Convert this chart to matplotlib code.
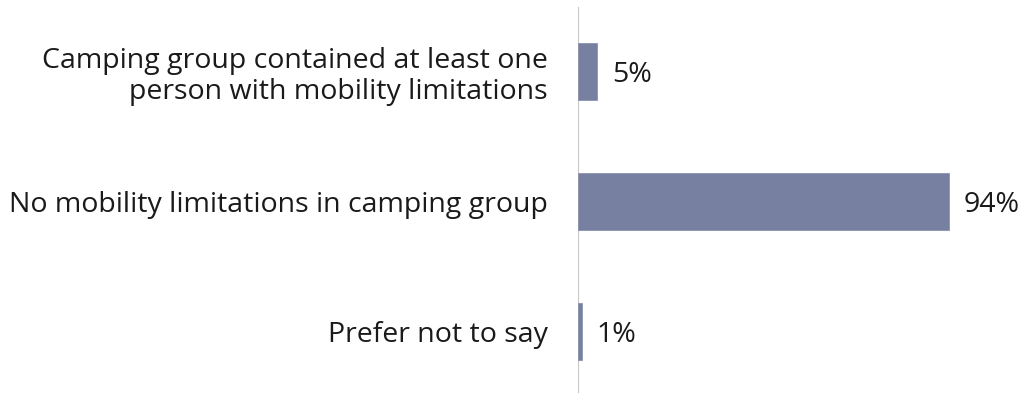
import matplotlib
matplotlib.use("Agg")
import matplotlib.pyplot as plt

categories = [
    "Camping group contained at least one\nperson with mobility limitations",
    "No mobility limitations in camping group",
    "Prefer not to say",
]
values = [5, 94, 1]
value_labels = ["5%", "94%", "1%"]

bar_color = "#7880A1"
axis_color = "#C6C6C6"
text_color = "#1A1A1A"
font = "Open Sans"
fsize = 20.5

W, H = 1025, 394
fig = plt.figure(figsize=(W / 100, H / 100), dpi=100)
x0 = 577.6
px_per_pct = 3.95
ax = fig.add_axes([x0 / W, 0, 100 * px_per_pct / W, 1])
ax.set_xlim(0, 100)
ax.set_ylim(2 + (H - 331.5) / 130, -71.5 / 130)

pos = list(range(len(categories)))
ax.barh(pos, values, height=0.44, color=bar_color, edgecolor="#8B92AE", linewidth=0.6)

for p, v, lab in zip(pos, values, value_labels):
    ax.annotate(lab, (v, p), xytext=(15, -3), textcoords="offset pixels",
                va="center", ha="left", fontsize=fsize, family=font, color=text_color)

ax.set_yticks(pos)
ax.set_yticklabels(categories, fontsize=fsize, family=font, color=text_color,
                   linespacing=1.12, ha="right")
ax.tick_params(axis="y", length=0, pad=21.3)
ax.set_xticks([])
for s in ax.spines.values():
    s.set_visible(False)
ax.axvline(0, ymin=(H - 392) / H, ymax=(H - 8) / H, color=axis_color, lw=1.5, zorder=0)
ax.patch.set_visible(False)

fig.savefig("out.png", dpi=100, facecolor="white")
